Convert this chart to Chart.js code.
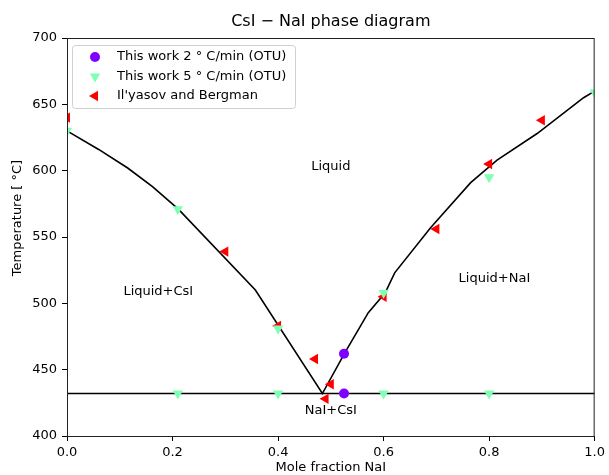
<!DOCTYPE html>
<html>
<head>
<meta charset="utf-8">
<script src="https://cdn.jsdelivr.net/npm/chart.js@4/dist/chart.umd.min.js"></script>
<style>
  html, body { margin: 0; padding: 0; background: #fff; }
  #wrap { width: 609px; height: 475px; }
</style>
</head>
<body>
<div id="wrap"><canvas id="phaseChart" width="609" height="475"></canvas></div>
<script>
// measured points
var otu2X = [0.525, 0.525];
var otu2Y = [462, 432];
var otu5X = [0.0, 0.21, 0.40, 0.60, 0.80, 1.0, 0.21, 0.40, 0.60, 0.80];
var otu5Y = [630, 571, 481, 508, 595, 659, 432, 432, 432, 432];
var ilyX = [0.0, 0.30, 0.40, 0.47, 0.50, 0.49, 0.60, 0.70, 0.80, 0.90];
var ilyY = [640, 539, 483, 458, 439, 428, 505, 556, 605, 638];

// liquidus and eutectic lines
var liqX = [0.0, 0.06, 0.115, 0.162, 0.211, 0.357, 0.484, 0.527, 0.571, 0.603, 0.621, 0.689, 0.765, 0.815, 0.891, 0.979, 1.0];
var liqY = [630, 616, 602, 588, 571, 510, 432, 463, 493, 508, 523, 557, 591, 608, 628, 655, 660];
var eutX = [0.0, 1.0];
var eutY = [432, 432];

// region labels
var regionText = ['Liquid', 'Liquid+CsI', 'Liquid+NaI', 'NaI+CsI'];
var regionX = [0.50, 0.173, 0.81, 0.50];
var regionY = [603, 509, 519, 419];

var xTicks = [0, 0.2, 0.4, 0.6, 0.8, 1.0];
var yTicks = [400, 450, 500, 550, 600, 650, 700];

function pts(xs, ys) {
  return xs.map(function (x, i) { return { x: x, y: ys[i] }; });
}

var FONT = "'DejaVu Sans', sans-serif";

var extras = {
  id: 'extras',
  afterDatasetsDraw: function (chart) {
    var ctx = chart.ctx, a = chart.chartArea;
    var xs = chart.scales.x, ys = chart.scales.y;
    ctx.save();
    // region labels
    ctx.fillStyle = '#000';
    ctx.font = '13px ' + FONT;
    ctx.textAlign = 'center';
    ctx.textBaseline = 'middle';
    regionText.forEach(function (t, i) {
      ctx.fillText(t, xs.getPixelForValue(regionX[i]), ys.getPixelForValue(regionY[i]));
    });
    // frame
    ctx.strokeStyle = '#222';
    ctx.lineWidth = 1;
    ctx.strokeRect(a.left + 0.5, a.top + 0.5, a.right - a.left - 1, a.bottom - a.top);
    // title
    ctx.font = '16px ' + FONT;
    ctx.fillText('CsI \u2212 NaI phase diagram', (a.left + a.right) / 2, 22);
    // y label
    ctx.save();
    ctx.translate(18, 218);
    ctx.rotate(-Math.PI / 2);
    ctx.font = '13px ' + FONT;
    ctx.fillText('Temperature [ \u00b0C]', 0, 0);
    ctx.restore();
    // legend box
    var bx = a.left + 5, by = a.top + 7, bw = 223, bh = 63;
    ctx.beginPath();
    ctx.roundRect(bx + 0.5, by + 0.5, bw, bh, 3);
    ctx.fillStyle = 'rgba(255,255,255,0.8)';
    ctx.fill();
    ctx.strokeStyle = '#d0d0d0';
    ctx.stroke();
    ctx.font = '13px ' + FONT;
    ctx.textAlign = 'left';
    var items = chart.data.datasets.filter(function (d) { return d.label; });
    items.forEach(function (d, i) {
      var cy = by + 12 + i * 19.5;
      ctx.fillStyle = d.backgroundColor;
      ctx.strokeStyle = d.backgroundColor;
      Chart.helpers.drawPoint(ctx, {
        pointStyle: d.pointStyle, radius: d.pointRadius, rotation: d.rotation || 0, borderWidth: 0
      }, bx + 23, cy);
      ctx.fillStyle = '#000';
      ctx.fillText(d.label, bx + 45, cy);
    });
    ctx.restore();
  }
};

new Chart(document.getElementById('phaseChart'), {
  type: 'scatter',
  data: {
    datasets: [
      { label: 'This work 2 \u00b0 C/min (OTU)', data: pts(otu2X, otu2Y), pointStyle: 'circle', pointRadius: 5,
        backgroundColor: '#8000ff', borderColor: '#8000ff', borderWidth: 0 },
      { label: 'This work 5 \u00b0 C/min (OTU)', data: pts(otu5X, otu5Y), pointStyle: 'triangle', rotation: 180, pointRadius: 6,
        backgroundColor: '#80ffb4', borderColor: '#80ffb4', borderWidth: 0 },
      { label: "Il'yasov and Bergman", data: pts(ilyX, ilyY), pointStyle: 'triangle', rotation: 270, pointRadius: 6,
        backgroundColor: '#ff0000', borderColor: '#ff0000', borderWidth: 0 },
      { data: pts(liqX, liqY), showLine: true, pointRadius: 0, borderColor: '#000', borderWidth: 1.6, tension: 0 },
      { data: pts(eutX, eutY), showLine: true, pointRadius: 0, borderColor: '#000', borderWidth: 1.6 }
    ]
  },
  options: {
    responsive: false,
    animation: false,
    layout: { padding: { top: 38, right: 11, left: 0, bottom: 0 } },
    plugins: { legend: { display: false }, tooltip: { enabled: false }, title: { display: false } },
    scales: {
      x: {
        type: 'linear', min: 0, max: 1,
        afterBuildTicks: function (s) { s.ticks = xTicks.map(function (v) { return { value: v }; }); },
        afterFit: function (s) { s.height = 39; },
        grid: { drawOnChartArea: false, drawTicks: true, tickLength: 5, color: '#000' },
        border: { display: false },
        ticks: { padding: 4, color: '#000', font: { family: FONT, size: 13 },
          callback: function (v) { return v.toFixed(1); } },
        title: { display: true, text: 'Mole fraction NaI', color: '#000', font: { family: FONT, size: 13 }, padding: { top: 0, bottom: 0 } }
      },
      y: {
        type: 'linear', min: 400, max: 700,
        afterBuildTicks: function (s) { s.ticks = yTicks.map(function (v) { return { value: v }; }); },
        afterFit: function (s) { s.width = 67; },
        grid: { drawOnChartArea: false, drawTicks: true, tickLength: 5, color: '#000' },
        border: { display: false },
        ticks: { padding: 5, color: '#000', font: { family: FONT, size: 13 } }
      }
    }
  },
  plugins: [extras]
});
</script>
</body>
</html>
